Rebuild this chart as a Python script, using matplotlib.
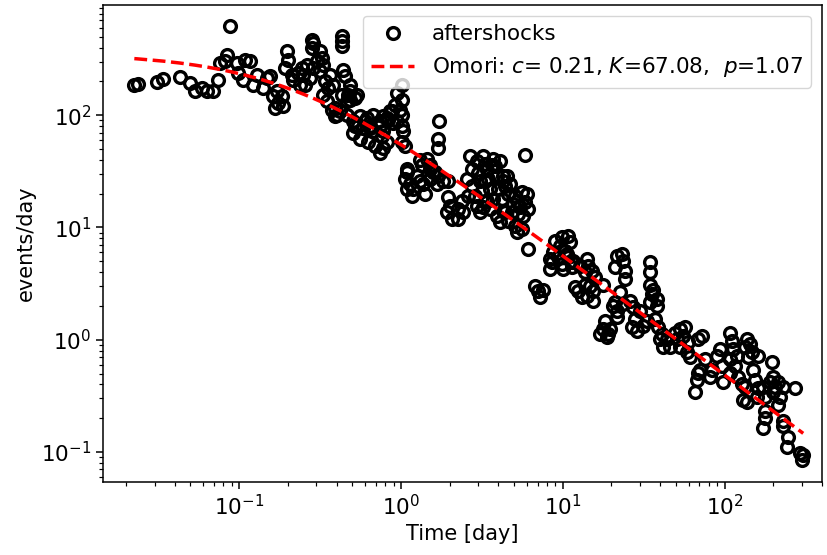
import numpy as np
import matplotlib
matplotlib.use("Agg")
import matplotlib.pyplot as plt

# aftershock rates (time in days, events/day)
days_early = [0.0225, 0.0236, 0.031, 0.0337, 0.043, 0.0496, 0.0532, 0.0588, 0.0631, 0.0688,
              0.0738, 0.076, 0.0816, 0.0839, 0.0875, 0.0968, 0.098, 0.105, 0.108, 0.116,
              0.122, 0.129, 0.140, 0.148, 0.155, 0.162, 0.166, 0.173,
              0.171, 0.184, 0.186, 0.197, 0.200, 0.192, 0.215, 0.212, 0.231, 0.244,
              0.262, 0.248, 0.274, 0.255, 0.237, 0.282, 0.286, 0.282, 0.316, 0.325,
              0.302, 0.330, 0.286, 0.316, 0.432, 0.432, 0.432, 0.339, 0.364, 0.380,
              0.354, 0.330, 0.349, 0.438, 0.451, 0.484, 0.470, 0.535, 0.484, 0.374,
              0.420, 0.402, 0.464, 0.505, 0.542, 0.616, 0.671, 0.741, 0.819, 0.855,
              0.893, 0.774, 0.643, 0.432, 0.484, 0.520, 0.464, 0.391, 0.391, 0.945,
              0.918, 0.986, 0.880, 0.945, 0.831, 0.774, 0.741, 0.643, 0.599, 0.557,
              0.520, 0.505, 0.557, 0.582, 0.671, 0.625, 0.763, 0.819, 0.774, 0.690,
              0.741]
rates_early = [185, 190, 197, 210, 219, 193, 164, 175, 164, 164,
               206, 292, 304, 345, 626, 292, 238, 206, 311, 304,
               186, 228, 175, 214, 223, 148, 116, 128,
               164, 148, 120, 374, 311, 264, 206, 228, 238, 264,
               281, 228, 214, 186, 186, 469, 441, 398, 374, 324,
               304, 281, 264, 248, 509, 459, 415, 201, 228, 186,
               175, 151, 133, 253, 223, 186, 151, 151, 136, 111,
               109, 100, 100, 88, 80, 94, 100, 88, 94, 109,
               85, 72, 77, 151, 164, 142, 133, 116, 98, 157,
               123, 111, 109, 88, 90, 98, 81, 81, 88, 98,
               81, 69, 62, 77, 73, 58, 65, 58, 51, 53,
               46]

days_mid = [1.014, 1.014, 1.014, 1.029, 1.058, 1.72, 1.694, 1.694, 1.089, 1.058,
            1.137, 1.256, 1.186, 1.349, 1.449, 1.511, 1.368, 1.511, 1.407, 1.578,
            1.014, 1.014, 1.311, 1.511, 1.623, 1.694, 1.819, 1.954, 1.089, 1.089,
            1.170, 1.311, 1.670, 1.954, 2.009, 1.923, 2.066, 2.252, 2.383, 2.252,
            2.417, 2.671, 2.952, 3.215, 3.706, 2.748, 2.995, 3.403, 3.652, 4.093,
            2.557, 2.748, 3.081, 3.451, 3.922, 4.272, 2.595, 2.869, 3.170, 3.550,
            3.978, 4.395, 2.952, 3.307, 3.706, 4.211, 3.081, 3.550, 3.922, 4.272,
            4.093, 5.843, 3.307, 3.812, 4.522, 4.272, 4.720, 3.307, 4.588, 5.068,
            5.598, 6.011, 5.214, 5.843, 6.098, 5.441, 4.926, 3.403, 3.215, 4.395,
            4.856, 5.289, 5.679, 4.588, 5.068, 5.598, 5.214, 6.098, 8.960, 9.898,
            10.78, 11.09, 9.621, 10.33, 8.708, 9.351, 8.344, 10.78, 9.898, 11.41,
            10.63, 8.585, 11.58, 8.344, 10.04, 11.41, 12.80, 14.15, 14.35, 13.75,
            15.18, 15.84, 17.75, 6.740, 7.034, 7.554, 7.237, 11.91, 12.44, 13.75,
            14.75, 15.39, 14.15, 15.39, 13.17]
rates_mid = [186, 136, 100, 72, 53, 88, 62, 51, 31.5, 27.3,
             24.6, 29.0, 22.2, 36, 41, 36, 24.6, 27.3, 20.0, 31.5,
             81, 58, 40, 33.5, 31.5, 28.5, 26.2, 25.7, 33.5, 22.2,
             19.2, 26.2, 24.6, 18.8, 15.6, 13.8, 12.0, 14.7, 17.3, 12.0,
             13.8, 43, 39, 43, 41, 33.5, 30.3, 32.2, 36, 39,
             27.3, 23.6, 25.7, 27.3, 29.0, 29.0, 19.2, 19.2, 21.3, 22.2,
             22.2, 23.6, 15.6, 17.3, 18.1, 18.1, 13.8, 14.7, 12.7, 14.1,
             11.2, 44, 37, 35, 29.0, 25.7, 24.6, 26.2, 20.0, 19.2,
             20.9, 20.0, 17.3, 17.0, 14.7, 15.3, 16.3, 17.3, 15.3, 13.8,
             13.8, 13.3, 12.7, 11.5, 10.4, 9.7, 9.2, 6.4, 7.6, 8.3,
             8.4, 7.4, 6.9, 6.2, 6.1, 5.5, 5.25, 5.5, 4.7, 4.9,
             5.8, 4.9, 5.0, 4.3, 4.3, 4.45, 4.5, 5.25, 4.5, 4.0,
             4.1, 3.6, 3.1, 3.0, 2.7, 2.8, 2.4, 2.95, 2.7, 3.1,
             3.0, 2.7, 2.45, 2.2, 2.4]

days_late = [21.66, 21.06, 20.47, 21.66, 17.75, 17.00, 19.06, 23.26, 23.60, 24.28,
             24.28, 22.61, 21.06, 21.66, 23.60, 26.06, 27.22, 30.06, 28.00, 26.84,
             28.81, 31.37, 33.23, 18.26, 19.61, 18.79, 34.67, 34.67, 34.67, 36.21,
             35.67, 38.32, 38.32, 34.67, 37.25, 38.86, 41.13, 39.98, 44.16, 41.72,
             46.09, 49.50, 53.14, 57.06, 55.46, 50.92, 53.14, 59.55, 58.71, 61.27,
             68.66, 70.65, 68.66, 67.70, 65.81, 72.68, 75.86, 83.82, 81.47, 93.95,
             90.03, 96.65, 98.03, 108.3, 111.4, 113.0, 108.3, 119.7, 116.3, 108.3,
             121.4, 128.5, 130.3, 134.1, 138.0, 140.0, 144.0, 148.2, 161.4, 134.1,
             138.0, 150.3, 154.7, 161.4, 159.1, 173.3, 178.3, 197.0, 199.8, 191.5,
             205.6, 214.6, 220.8, 230.4, 199.8, 214.6, 178.3, 178.3, 173.3, 273.4,
             230.4, 230.4, 247.3, 243.8, 293.6, 302.1, 306.4]
rates_late = [5.6, 4.45, 1.99, 1.59, 1.24, 1.12, 1.12, 5.8, 5.0, 4.1,
              3.5, 2.65, 2.16, 1.8, 2.07, 2.2, 1.95, 1.8, 1.52, 1.29,
              1.19, 1.32, 1.46, 1.46, 1.24, 1.05, 4.9, 4.0, 3.1, 2.8,
              2.55, 2.3, 1.99, 2.16, 1.52, 1.29, 1.12, 1.01, 1.01, 0.87,
              0.87, 1.16, 1.24, 1.29, 1.07, 1.01, 0.87, 0.95, 0.77, 0.70,
              1.01, 0.54, 0.51, 0.44, 0.34, 1.07, 0.67, 0.54, 0.47, 0.82,
              0.71, 0.58, 0.42, 1.16, 0.97, 0.82, 0.67, 0.71, 0.58, 0.51,
              0.47, 0.40, 0.29, 0.87, 1.01, 0.70, 0.91, 0.77, 0.71, 0.38,
              0.28, 0.54, 0.44, 0.375, 0.31, 0.38, 0.31, 0.63, 0.47, 0.42,
              0.38, 0.42, 0.31, 0.38, 0.34, 0.26, 0.23, 0.20, 0.165, 0.375,
              0.19, 0.17, 0.136, 0.111, 0.098, 0.085, 0.094]

# fitted Omori parameters (shown in the legend)
omori_c = 0.21
omori_K = 67.08
omori_p = 1.07

days = np.array(days_early + days_mid + days_late)
rates = np.array(rates_early + rates_mid + rates_late)
fit_days = np.sort(days)
fit_rates = omori_K / (omori_c + fit_days) ** omori_p

plt.rcParams["font.size"] = 15.5
plt.rcParams["axes.linewidth"] = 1.1

fig = plt.figure(figsize=(8.27, 5.55), dpi=100)
ax = fig.add_axes([0.1245, 0.1315, 0.8694, 0.8595])

ax.plot(days, rates, "o", mfc="none", mec="black", ms=8.5, mew=2.4,
        label="aftershocks")
ax.plot(fit_days, fit_rates, "r--", lw=2.5,
        label=r"Omori: $c$= %.2f, $K$=%.2f,  $p$=%.2f" % (omori_c, omori_K, omori_p))

ax.set_xscale("log")
ax.set_yscale("log")
ax.set_xlim(0.0144, 400)
ax.set_ylim(0.054, 960)
ax.tick_params(which="major", length=4.9, width=1.1)
ax.tick_params(which="minor", length=2.8, width=0.85)
ax.set_xlabel("Time [day]", fontsize=15)
ax.set_ylabel("events/day", fontsize=15)
ax.legend(loc="upper right")

fig.savefig("out.png", dpi=100)
